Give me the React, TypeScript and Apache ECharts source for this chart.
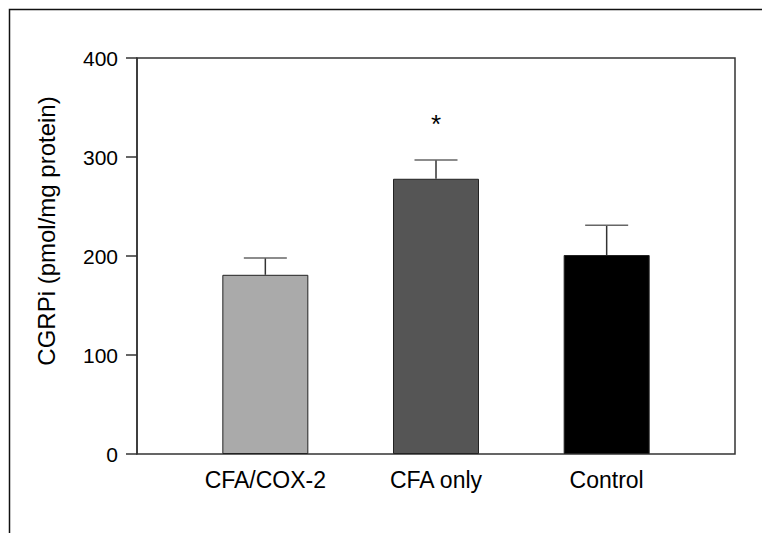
import React, { useEffect, useRef } from "react";
import * as echarts from "echarts";

const categories = ["CFA/COX-2", "CFA only", "Control"];
const means = [181, 278, 201];
const errors = [17, 19, 30];
const barColors = ["#aaaaaa", "#555555", "#000000"];
const significance = ["", "*", ""];
const yTicks = { min: 0, max: 400, interval: 100 };
const yTitle = "CGRPi (pmol/mg protein)";

const FONT = "'Liberation Sans', Arial, Helvetica, sans-serif";

export default function App() {
  const ref = useRef<HTMLDivElement>(null);
  useEffect(() => {
    if (!ref.current) return;
    const chart = echarts.init(ref.current, null, { renderer: "svg" });
    const option: any = {
      animation: false,
      backgroundColor: "#ffffff",
      textStyle: { fontFamily: FONT },
      grid: [
        {
          left: 137,
          top: 58,
          width: 598,
          height: 396,
          show: true,
          borderColor: "#333333",
          borderWidth: 1.5,
          backgroundColor: "transparent",
        },
        { left: 180, top: 58, width: 512, height: 396 },
      ],
      xAxis: [
        { type: "value", gridIndex: 0, show: false, min: 0, max: 1 },
        {
          type: "category",
          gridIndex: 1,
          data: categories,
          axisLine: { show: false },
          axisTick: { show: false },
          axisLabel: { color: "#000", fontSize: 23, margin: 14, fontFamily: FONT },
        },
      ],
      yAxis: [
        {
          type: "value",
          gridIndex: 0,
          min: yTicks.min,
          max: yTicks.max,
          interval: yTicks.interval,
          axisLine: { show: true, lineStyle: { color: "#333333", width: 1.5 } },
          axisTick: { show: true, inside: false, length: 11, lineStyle: { color: "#333333", width: 1.5 } },
          axisLabel: { color: "#000", fontSize: 21, margin: 19, fontFamily: FONT },
          splitLine: { show: false },
        },
        {
          type: "value",
          gridIndex: 1,
          min: yTicks.min,
          max: yTicks.max,
          interval: yTicks.interval,
          show: false,
          splitLine: { show: false },
        },
      ],
      series: [
        {
          type: "bar",
          xAxisIndex: 1,
          yAxisIndex: 1,
          barWidth: 86,
          data: means.map((v, i) => ({
            value: v,
            itemStyle: { color: barColors[i], borderColor: "#222222", borderWidth: 1 },
          })),
        },
        {
          type: "custom",
          xAxisIndex: 1,
          yAxisIndex: 1,
          data: means.map((m, i) => [i, m, m + errors[i]]),
          z: 3,
          renderItem: (params: any, api: any) => {
            const idx = api.value(0);
            const base = api.coord([idx, api.value(1)]);
            const top = api.coord([idx, api.value(2)]);
            const half = 21.5;
            const children: any[] = [
              {
                type: "line",
                shape: { x1: base[0], y1: base[1], x2: top[0], y2: top[1] },
                style: { stroke: "#333333", lineWidth: 1.5 },
              },
              {
                type: "line",
                shape: { x1: top[0] - half, y1: top[1], x2: top[0] + half, y2: top[1] },
                style: { stroke: "#666666", lineWidth: 1.5 },
              },
            ];
            const sig = significance[params.dataIndex];
            if (sig) {
              children.push({
                type: "text",
                x: top[0],
                y: top[1] - 36,
                style: {
                  text: sig,
                  fill: "#000",
                  font: `26px ${FONT}`,
                  align: "center",
                  verticalAlign: "middle",
                },
              });
            }
            return { type: "group", children };
          },
        },
      ],
      graphic: [
        {
          type: "rect",
          shape: { x: 9.5, y: 9.5, width: 800, height: 600 },
          style: { fill: "none", stroke: "#111111", lineWidth: 1.5 },
          z: -1,
        },
        {
          type: "text",
          x: 46,
          y: 231,
          rotation: Math.PI / 2,
          style: {
            text: yTitle,
            fill: "#000",
            font: `24px ${FONT}`,
            align: "center",
            verticalAlign: "middle",
          },
        },
      ],
    };
    chart.setOption(option);
    return () => chart.dispose();
  }, []);
  return (
    <div
      ref={ref}
      style={{ position: "fixed", left: 0, top: 0, width: 762, height: 533 }}
    />
  );
}
